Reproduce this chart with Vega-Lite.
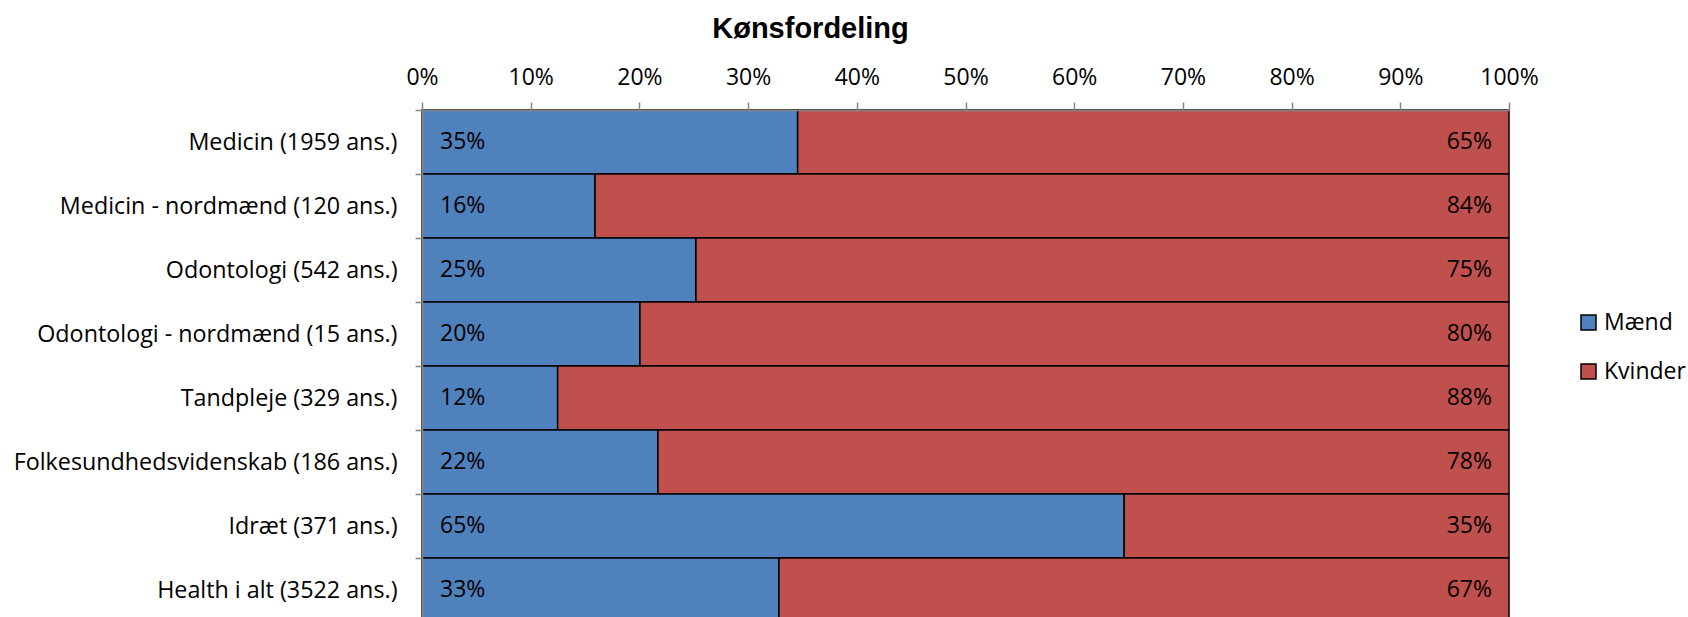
{
  "$schema": "https://vega.github.io/schema/vega-lite/v6.json",
  "width": 1087,
  "height": 512,
  "autosize": {"type": "none"},
  "padding": {"left": 422, "top": 110, "right": 179, "bottom": 0},
  "background": "white",
  "title": {
    "text": "Kønsfordeling",
    "font": "Liberation Sans",
    "fontSize": 29,
    "fontWeight": "bold",
    "color": "black",
    "anchor": "middle",
    "baseline": "alphabetic",
    "offset": -1,
    "dx": -155
  },
  "data": {
    "values": [
      {"cat": "Medicin (1959 ans.)", "gender": "Mænd", "pct": 0.3456},
      {"cat": "Medicin (1959 ans.)", "gender": "Kvinder", "pct": 0.6544},
      {"cat": "Medicin - nordmænd (120 ans.)", "gender": "Mænd", "pct": 0.1592},
      {"cat": "Medicin - nordmænd (120 ans.)", "gender": "Kvinder", "pct": 0.8408},
      {"cat": "Odontologi (542 ans.)", "gender": "Mænd", "pct": 0.252},
      {"cat": "Odontologi (542 ans.)", "gender": "Kvinder", "pct": 0.748},
      {"cat": "Odontologi - nordmænd (15 ans.)", "gender": "Mænd", "pct": 0.2005},
      {"cat": "Odontologi - nordmænd (15 ans.)", "gender": "Kvinder", "pct": 0.7995},
      {"cat": "Tandpleje (329 ans.)", "gender": "Mænd", "pct": 0.1248},
      {"cat": "Tandpleje (329 ans.)", "gender": "Kvinder", "pct": 0.8752},
      {"cat": "Folkesundhedsvidenskab (186 ans.)", "gender": "Mænd", "pct": 0.217},
      {"cat": "Folkesundhedsvidenskab (186 ans.)", "gender": "Kvinder", "pct": 0.783},
      {"cat": "Idræt (371 ans.)", "gender": "Mænd", "pct": 0.646},
      {"cat": "Idræt (371 ans.)", "gender": "Kvinder", "pct": 0.354},
      {"cat": "Health i alt (3522 ans.)", "gender": "Mænd", "pct": 0.3284},
      {"cat": "Health i alt (3522 ans.)", "gender": "Kvinder", "pct": 0.6716}
    ]
  },
  "transform": [
    {"stack": "pct", "groupby": ["cat"], "sort": [{"field": "gender", "order": "descending"}], "as": ["x0", "x1"]}
  ],
  "encoding": {
    "y": {
      "field": "cat",
      "type": "nominal",
      "sort": null,
      "scale": {"paddingInner": 0, "paddingOuter": 0},
      "axis": {
        "title": null,
        "tickBand": "extent",
        "tickSize": 7,
        "tickColor": "#868686",
        "tickWidth": 1.5,
        "domainColor": "#868686",
        "domainWidth": 1.5,
        "labelFont": "Open Sans",
        "labelFontSize": 23.3,
        "labelColor": "black",
        "labelPadding": 18,
        "labelLimit": 600,
        "zindex": 1
      }
    }
  },
  "layer": [
    {
      "mark": {"type": "bar", "stroke": "black", "strokeWidth": 1.5},
      "encoding": {
        "x": {
          "field": "x0",
          "type": "quantitative",
          "scale": {"domain": [0, 1], "nice": false, "zero": true},
          "axis": {
            "orient": "top",
            "title": null,
            "values": [0, 0.1, 0.2, 0.3, 0.4, 0.5, 0.6, 0.7, 0.8, 0.9, 1],
            "format": ".0%",
            "grid": false,
            "tickSize": 8,
            "tickColor": "#868686",
            "tickWidth": 1.5,
            "domainColor": "#868686",
            "domainWidth": 1.5,
            "labelFont": "Open Sans",
            "labelFontSize": 23,
            "labelColor": "black",
            "labelBaseline": "alphabetic",
            "labelPadding": 18,
            "labelFlush": false,
            "labelOverlap": false,
            "zindex": 1
          }
        },
        "x2": {"field": "x1"},
        "color": {
          "field": "gender",
          "type": "nominal",
          "scale": {"domain": ["Mænd", "Kvinder"], "range": ["#4F81BD", "#C0504D"]},
          "legend": {
            "title": null,
            "orient": "none",
            "legendX": 1155,
            "legendY": 201,
            "padding": 0,
            "symbolType": "square",
            "symbolSize": 225,
            "symbolStrokeColor": "black",
            "symbolStrokeWidth": 1.5,
            "symbolOpacity": 1,
            "labelFont": "Open Sans",
            "labelFontSize": 23,
            "labelColor": "black",
            "labelOffset": 4,
            "labelLimit": 200,
            "rowPadding": 25
          }
        }
      }
    },
    {
      "transform": [{"filter": "datum.gender === 'Mænd'"}],
      "mark": {"type": "text", "align": "left", "baseline": "middle", "dx": 18, "font": "Open Sans", "fontSize": 23, "color": "black"},
      "encoding": {
        "x": {"field": "x0", "type": "quantitative"},
        "text": {"field": "pct", "type": "quantitative", "format": ".0%"}
      }
    },
    {
      "transform": [{"filter": "datum.gender === 'Kvinder'"}],
      "mark": {"type": "text", "align": "right", "baseline": "middle", "dx": -17, "font": "Open Sans", "fontSize": 23, "color": "black"},
      "encoding": {
        "x": {"field": "x1", "type": "quantitative"},
        "text": {"field": "pct", "type": "quantitative", "format": ".0%"}
      }
    }
  ],
  "config": {
    "view": {"stroke": null}
  }
}
